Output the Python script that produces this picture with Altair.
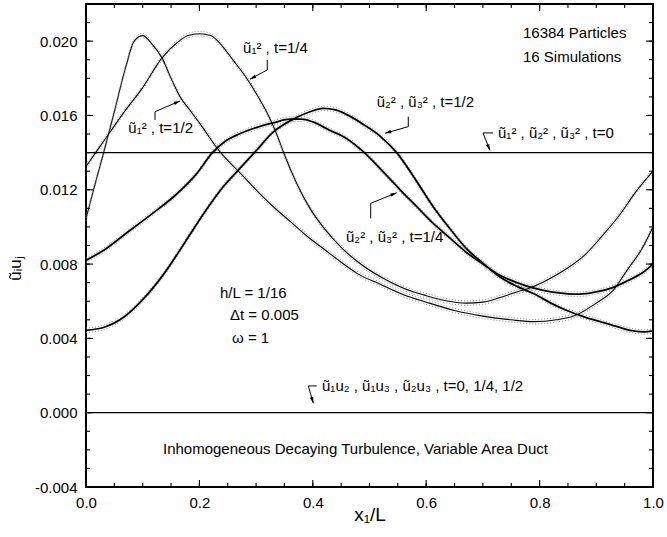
import math
import altair as alt
import pandas as pd

FONT = "Liberation Sans"

# ---------------- data (curve values in units of 1e-3) ----------------
# u1^2, t=1/2 : sharp peak near x1/L = 0.1
u1_half_x = [0, 0.016, 0.032, 0.05, 0.07, 0.085, 0.1, 0.115, 0.134, 0.15, 0.166, 0.183, 0.2,
             0.236, 0.272, 0.3, 0.33, 0.36, 0.39, 0.42, 0.45, 0.478, 0.52, 0.56, 0.6, 0.65,
             0.7, 0.75, 0.79, 0.83, 0.86, 0.9, 0.93, 0.955, 0.98, 1.0]
u1_half_v = [10.45, 12.3, 14.1, 16.2, 18.6, 20.0, 20.3, 19.9, 19.1, 18.0, 17.0, 16.3, 15.6,
             14.05, 12.9, 12.0, 11.1, 10.3, 9.5, 8.8, 8.1, 7.5, 6.9, 6.35, 5.95, 5.5,
             5.2, 5.0, 4.9, 5.0, 5.2, 5.9, 6.6, 7.7, 8.8, 10.0]

# u1^2, t=1/4 : broad peak near x1/L = 0.2
u1_quarter_x = [0, 0.017, 0.04, 0.07, 0.1, 0.134, 0.16, 0.18, 0.2, 0.22, 0.24, 0.26, 0.28,
                0.3, 0.32, 0.335, 0.348, 0.362, 0.377, 0.395, 0.418, 0.45, 0.478, 0.52, 0.56,
                0.6, 0.64, 0.67, 0.7, 0.73, 0.76, 0.79, 0.82, 0.85, 0.88, 0.91, 0.94, 0.97, 1.0]
u1_quarter_v = [13.25, 14.0, 15.0, 16.3, 17.5, 19.1, 19.9, 20.3, 20.4, 20.3, 19.75, 18.95, 18.15,
                17.2, 16.1, 15.1, 14.05, 13.0, 12.0, 11.0, 10.0, 8.9, 8.15, 7.3, 6.7,
                6.3, 6.0, 5.9, 5.95, 6.2, 6.5, 6.8, 7.25, 7.8, 8.5, 9.5, 10.6, 11.9, 13.0]

# u2^2, u3^2, t=1/4
u23_quarter_x = [0, 0.032, 0.067, 0.114, 0.161, 0.196, 0.223, 0.245, 0.27, 0.3, 0.33, 0.36, 0.38,
                 0.4, 0.43, 0.46, 0.489, 0.52, 0.554, 0.583, 0.612, 0.642, 0.672, 0.7, 0.73,
                 0.76, 0.79, 0.82, 0.85, 0.87, 0.9, 0.93, 0.955, 0.98, 1.0]
u23_quarter_v = [8.2, 8.76, 9.57, 10.65, 11.8, 12.9, 14.0, 14.6, 15.0, 15.35, 15.6, 15.8, 15.8,
                 15.65, 15.2, 14.75, 14.05, 13.1, 12.0, 11.1, 10.2, 9.4, 8.6, 8.0, 7.4,
                 7.0, 6.7, 6.5, 6.4, 6.38, 6.5, 6.75, 7.1, 7.5, 8.0]

# u2^2, u3^2, t=1/2
u23_half_x = [0, 0.032, 0.067, 0.102, 0.138, 0.173, 0.208, 0.243, 0.273, 0.3, 0.33, 0.372, 0.395,
              0.418, 0.44, 0.466, 0.49, 0.52, 0.548, 0.58, 0.612, 0.642, 0.672, 0.7, 0.73,
              0.76, 0.79, 0.82, 0.848, 0.88, 0.907, 0.94, 0.965, 0.985, 1.0]
u23_half_v = [4.43, 4.6, 5.15, 6.15, 7.5, 9.1, 10.74, 12.2, 13.2, 14.1, 15.1, 15.9, 16.2,
              16.38, 16.3, 15.95, 15.5, 14.85, 14.0, 12.6, 11.1, 9.9, 8.8, 8.05, 7.3,
              6.8, 6.4, 5.9, 5.5, 5.15, 4.9, 4.6, 4.4, 4.35, 4.4]

# constant levels
t0_level = [0.014]      # u1^2, u2^2, u3^2 at t=0
cross_level = [0.0]     # cross correlations, all times
ci_half = 0.00012       # half-width of the dotted confidence band

# axis ticks
x_major = [0.0, 0.2, 0.4, 0.6, 0.8, 1.0]
y_major = [-0.004, 0.0, 0.004, 0.008, 0.012, 0.016, 0.020]
x_minor = [round(0.05 * i, 2) for i in range(21)]
y_minor = [round(-0.004 + 0.001 * i, 3) for i in range(27)]

# annotations (data coordinates)
ann_text = ["16384 Particles", "16 Simulations", "ũ₁² , t=1/4", "ũ₁² , t=1/2",
            "ũ₂² , ũ₃² , t=1/2", "ũ₁² , ũ₂² , ũ₃² , t=0", "ũ₂² , ũ₃² , t=1/4",
            "h/L = 1/16", "Δt = 0.005", "ω = 1",
            "ũ₁u₂ , ũ₁u₃ , ũ₂u₃ , t=0, 1/4, 1/2",
            "Inhomogeneous Decaying Turbulence, Variable Area Duct"]
ann_x = [0.7707, 0.7707, 0.277, 0.0746, 0.5126, 0.7266, 0.4585, 0.2363, 0.254, 0.2575, 0.4162, 0.1358]
ann_v = [0.02044, 0.01915, 0.01962, 0.01531, 0.01674, 0.01506, 0.00947, 0.00644, 0.00526, 0.00402,
         0.00144, -0.00195]

# leader segments: (x, v) -> (x2, v2)
seg_x = [0.3197, 0.3197, 0.1217, 0.1217, 0.5684, 0.5684, 0.7002, 0.7002, 0.5021, 0.5021, 0.3921, 0.3921]
seg_v = [0.01899, 0.01845, 0.01576, 0.0162, 0.01593, 0.0154, 0.01506, 0.01506, 0.01046, 0.01127, 0.00144, 0.00144]
seg_x2 = [0.3197, 0.289, 0.1217, 0.1658, 0.5684, 0.5273, 0.7178, 0.7125, 0.5021, 0.548, 0.4069, 0.4009]
seg_v2 = [0.01845, 0.01795, 0.0162, 0.01678, 0.0154, 0.01504, 0.01506, 0.01412, 0.01127, 0.01184, 0.00144, 0.00051]
arrow_seg = [1, 3, 5, 7, 9, 11]   # segments that end in an arrowhead

# ---------------- layout ----------------
W, H = 567, 483
X_DOM = [0.0, 1.0]
Y_DOM = [-0.004, 0.022]
MAJOR_LEN, MINOR_LEN = 7, 4
xs = alt.Scale(domain=X_DOM, nice=False, zero=False)
ys = alt.Scale(domain=Y_DOM, nice=False, zero=False)

# ---------------- tables ----------------
curves = [("u1_half", u1_half_x, u1_half_v, "thin"),
          ("u1_quarter", u1_quarter_x, u1_quarter_v, "thin"),
          ("u23_quarter", u23_quarter_x, u23_quarter_v, "thick"),
          ("u23_half", u23_half_x, u23_half_v, "thick")]
rows = []
for name, xx, vv, kind in curves:
    for i, (a, b) in enumerate(zip(xx, vv)):
        v = b * 1e-3
        rows.append(dict(curve=name, kind=kind, i=i, x=a, v=v, lo=v - ci_half, hi=v + ci_half))
cdf = pd.DataFrame(rows)

tdf = pd.DataFrame(dict(x=ann_x, v=ann_v, label=ann_text))
sdf = pd.DataFrame(dict(x=seg_x, v=seg_v, x2=seg_x2, v2=seg_v2))

sx = W / (X_DOM[1] - X_DOM[0])
sy = H / (Y_DOM[1] - Y_DOM[0])
arows = []
for k in arrow_seg:
    dx = (seg_x2[k] - seg_x[k]) * sx
    dys = -(seg_v2[k] - seg_v[k]) * sy
    ang = math.degrees(math.atan2(dx, -dys)) % 360
    arows.append(dict(x=seg_x2[k], v=seg_v2[k], ang=ang))
adf = pd.DataFrame(arows)

# inward tick marks: a short stroke symbol anchored on each frame edge, rotated inward
trows = []
for vals, length in ((x_minor, MINOR_LEN), (x_major, MAJOR_LEN)):
    sz = (2 * length) ** 2
    for t in vals:
        trows.append(dict(x=t, v=Y_DOM[0], ang=0, sz=sz))     # bottom edge, points up
        trows.append(dict(x=t, v=Y_DOM[1], ang=180, sz=sz))   # top edge, points down
for vals, length in ((y_minor, MINOR_LEN), (y_major, MAJOR_LEN)):
    sz = (2 * length) ** 2
    for t in vals:
        trows.append(dict(x=X_DOM[0], v=t, ang=90, sz=sz))    # left edge, points right
        trows.append(dict(x=X_DOM[1], v=t, ang=270, sz=sz))   # right edge, points left
tick_df = pd.DataFrame(trows)

# ---------------- axes (labels + titles; ticks drawn as symbols) ----------------
x_label_axis = alt.Axis(orient="bottom", values=x_major, format=".1f", ticks=False, tickSize=0,
                        domain=False, grid=False, labelFlush=False, labelFont=FONT,
                        labelFontSize=15, labelColor="black", labelPadding=8,
                        title="x₁/L", titleFont=FONT, titleFontSize=19, titleFontWeight="normal",
                        titleColor="black", titleX=W / 2, titleY=27, titleBaseline="middle",
                        titleAlign="center")
y_label_axis = alt.Axis(orient="left", values=y_major, ticks=False, tickSize=0, domain=False,
                        grid=False, labelFont=FONT, labelFontSize=15, labelColor="black",
                        labelPadding=9,
                        labelExpr="replace(format(datum.value, '.3f'), '\u2212', '-')",
                        title="ũᵢuⱼ", titleFont=FONT, titleFontSize=17, titleFontWeight="normal",
                        titleColor="black", titleAngle=270, titleX=-71, titleY=264,
                        titleAlign="center", titleBaseline="middle")

# every layer uses the same axis definitions so they merge into one pair of axes
XA = alt.X("x:Q", scale=xs, axis=x_label_axis)
YA = alt.Y("v:Q", scale=ys, axis=y_label_axis)

# ---------------- marks ----------------
thin = alt.Chart(cdf[cdf.kind == "thin"]).mark_line(
    color="black", strokeWidth=1.1, interpolate="monotone").encode(
    x=XA, y=YA, detail="curve:N", order="i:Q")

band_lo = alt.Chart(cdf).mark_line(color="#808080", strokeWidth=0.9, strokeDash=[1, 2],
                                   interpolate="monotone").encode(
    x=XA, y=alt.Y("lo:Q", scale=ys, axis=y_label_axis), detail="curve:N", order="i:Q")
band_hi = alt.Chart(cdf).mark_line(color="#808080", strokeWidth=0.9, strokeDash=[1, 2],
                                   interpolate="monotone").encode(
    x=XA, y=alt.Y("hi:Q", scale=ys, axis=y_label_axis), detail="curve:N", order="i:Q")

thick = alt.Chart(cdf[cdf.kind == "thick"]).mark_line(
    color="black", strokeWidth=1.8, interpolate="monotone").encode(
    x=XA, y=YA, detail="curve:N", order="i:Q")

ticks = alt.Chart(tick_df).mark_point(shape="M0,0L0,-1", filled=False, color="black",
                                      strokeWidth=1.1, opacity=1).encode(
    x=XA, y=YA, angle=alt.Angle("ang:Q", scale=None), size=alt.Size("sz:Q", scale=None))

levels = alt.Chart(pd.DataFrame(dict(v=t0_level + cross_level))).mark_rule(
    color="black", strokeWidth=1.3).encode(y=YA)

leaders = alt.Chart(sdf).mark_rule(color="black", strokeWidth=1).encode(
    x=XA, y=YA, x2="x2:Q", y2="v2:Q")

arrows = alt.Chart(adf).mark_point(shape="M0,0L-0.4,1.4L0.4,1.4Z", filled=True, color="black",
                                   size=80, opacity=1).encode(
    x=XA, y=YA, angle=alt.Angle("ang:Q", scale=None))

texts = alt.Chart(tdf).mark_text(align="left", baseline="middle", font=FONT, fontSize=15,
                                 color="black").encode(x=XA, y=YA, text="label:N")

chart = alt.layer(
    thin, band_lo, band_hi, thick, ticks, levels, leaders, arrows, texts,
).properties(
    width=W, height=H,
    autosize=alt.AutoSizeParams(type="none"),
    padding={"left": 86, "top": 4, "right": 14, "bottom": 50},
    background="white",
).configure_view(stroke="black", strokeWidth=2)

chart.save("out.html", embed_options={"renderer": "svg", "actions": False})
